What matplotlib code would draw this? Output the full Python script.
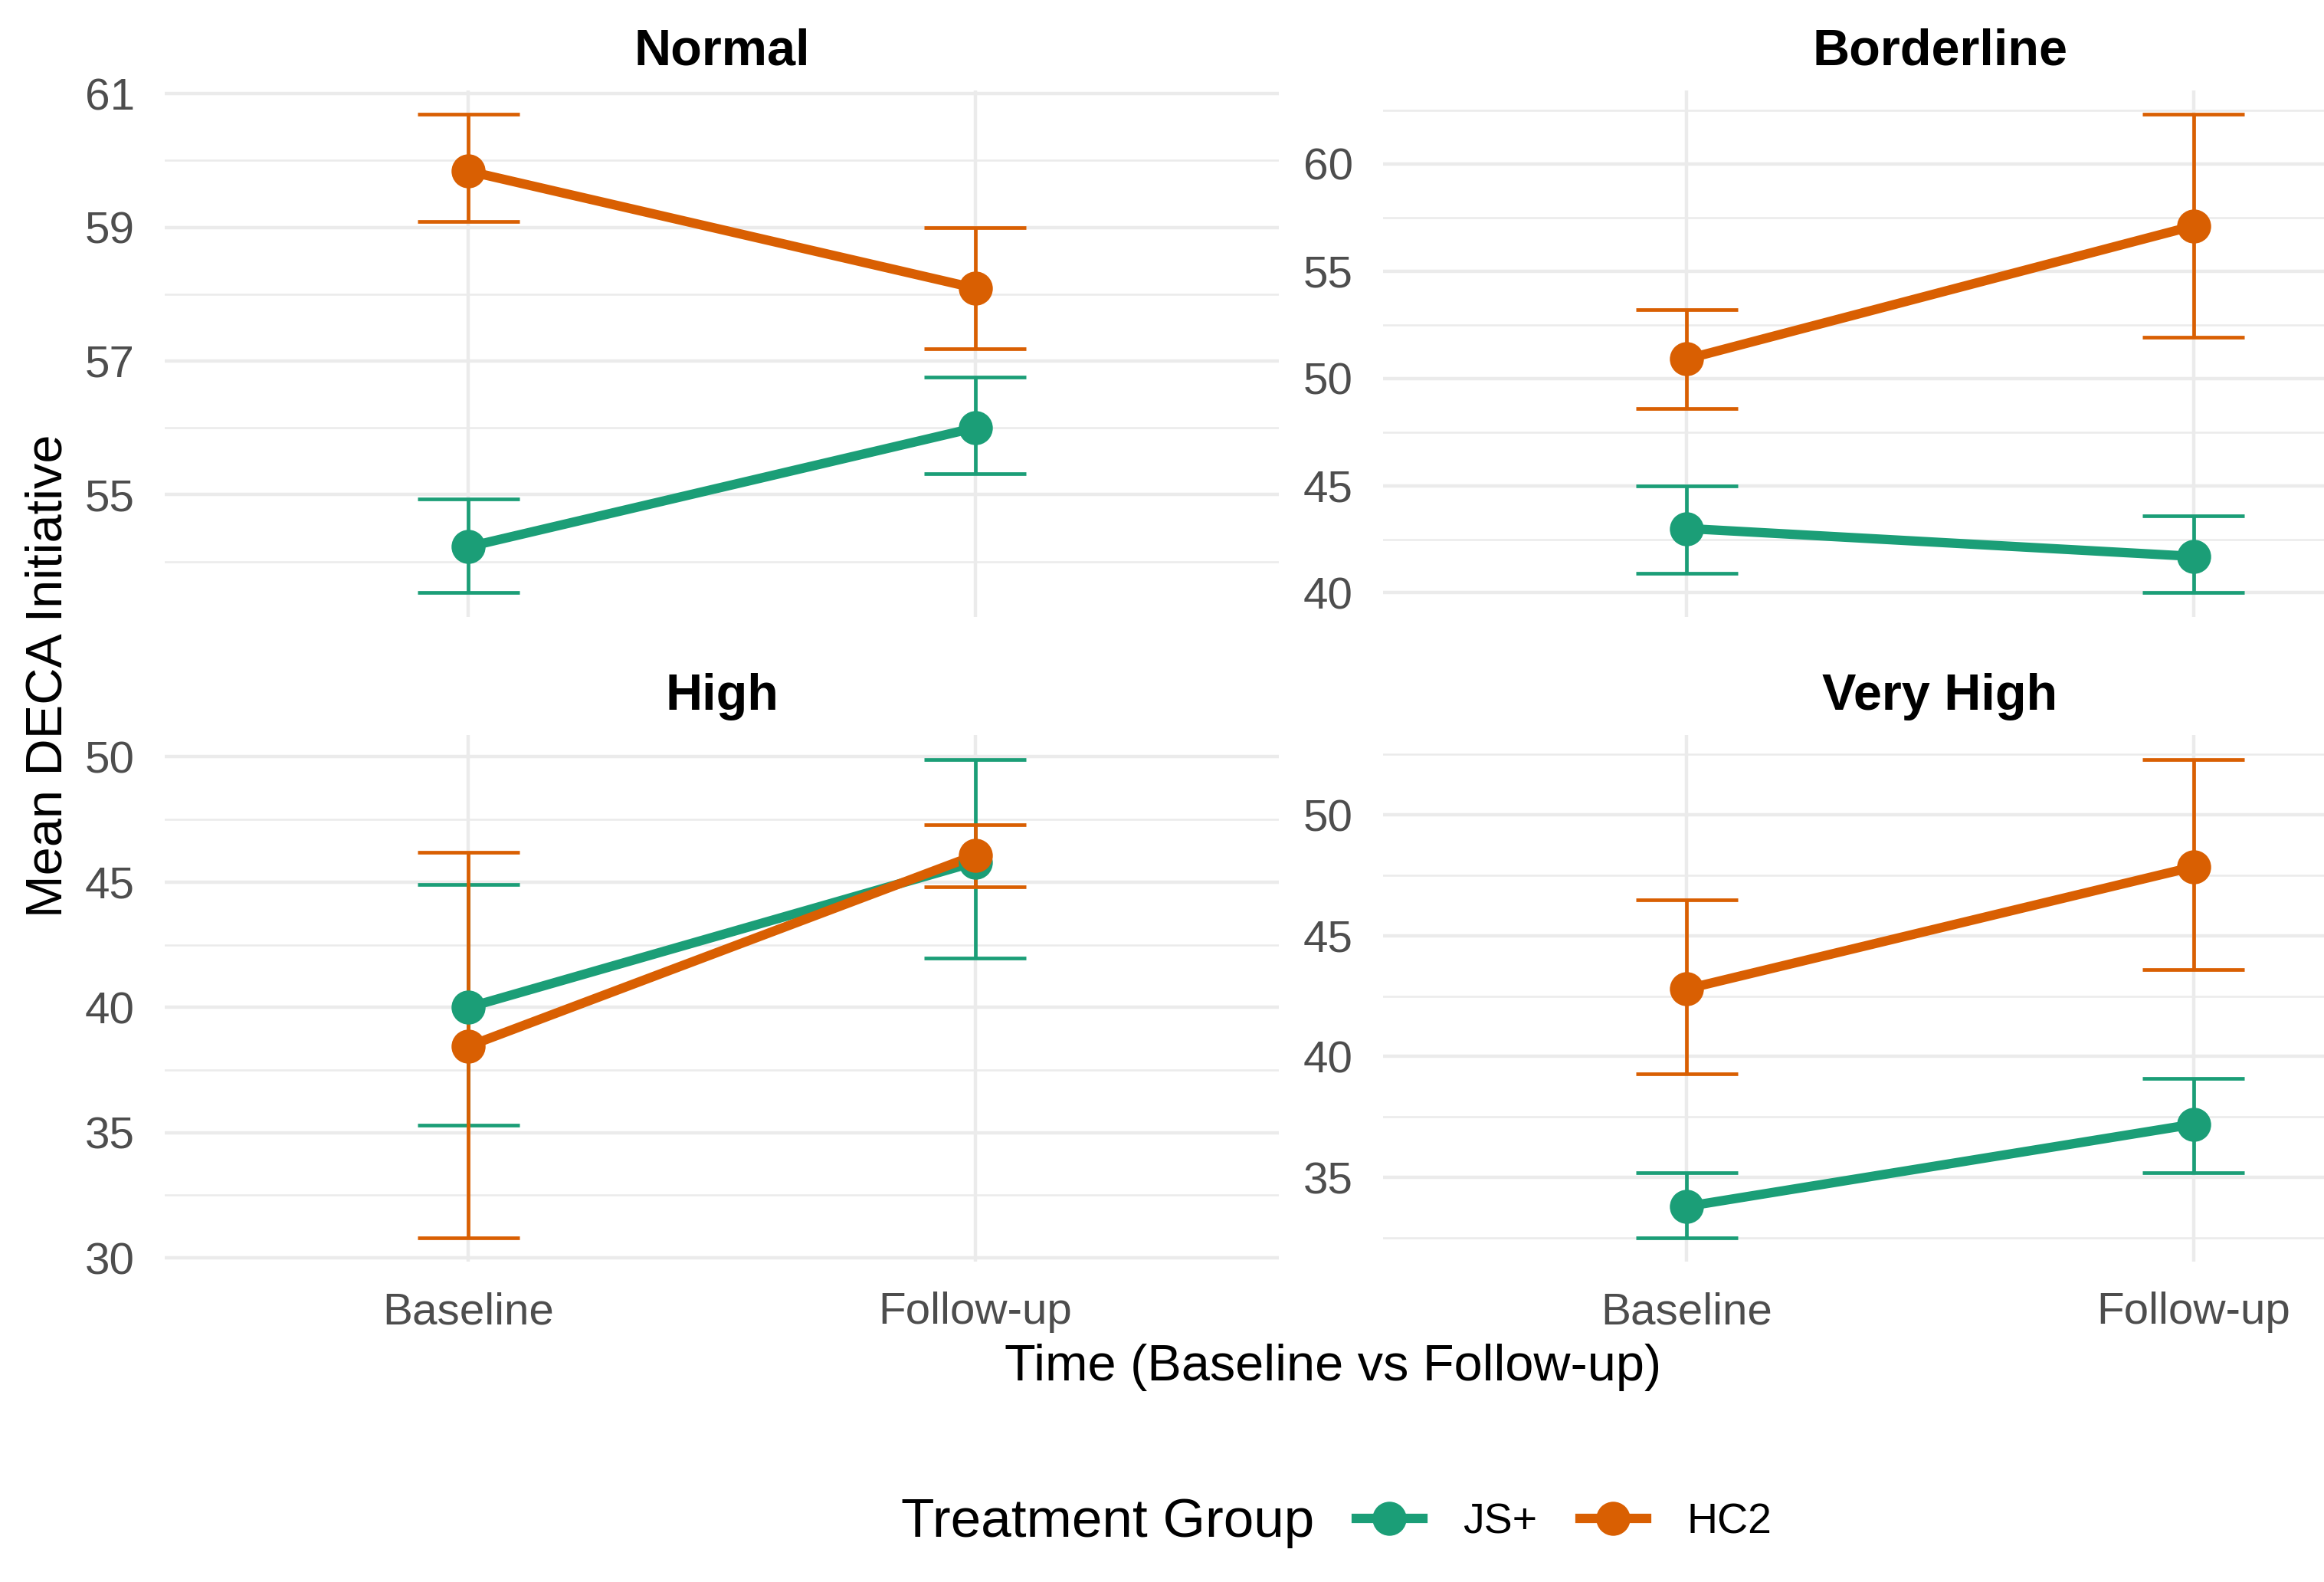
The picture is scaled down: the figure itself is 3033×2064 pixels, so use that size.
import numpy as np
import matplotlib
matplotlib.use("Agg")
import matplotlib.pyplot as plt
from matplotlib.lines import Line2D

plt.rcParams['font.family'] = ['Liberation Sans', 'DejaVu Sans']

times = ['Baseline', 'Follow-up']
groups = ['JS+', 'HC2']
panels = ['Normal', 'Borderline', 'High', 'Very High']
colors = {'JS+': '#1B9E77', 'HC2': '#D95F02'}

# values, one row per panel: [Baseline, Follow-up]
js_mean = [[54.22, 56.00], [43.0, 41.7], [40.0, 45.8], [33.8, 37.2]]
js_low = [[53.53, 55.31], [40.9, 40.0], [35.3, 41.96], [32.5, 35.2]]
js_high = [[54.93, 56.76], [45.0, 43.6], [44.9, 49.9], [35.2, 39.1]]

hc_mean = [[59.84, 58.09], [50.9, 57.1], [38.45, 46.07], [42.8, 47.85]]
hc_low = [[59.09, 57.18], [48.6, 51.9], [30.8, 44.8], [39.3, 43.6]]
hc_high = [[60.69, 59.00], [53.2, 62.3], [46.2, 47.3], [46.5, 52.3]]

y_ticks = [[55, 57, 59, 61], [40, 45, 50, 55, 60], [30, 35, 40, 45, 50], [35, 40, 45, 50]]

series = {
    'JS+': (js_mean, js_low, js_high),
    'HC2': (hc_mean, hc_low, hc_high),
}

W, H = 1568.0, 1067.0
fig = plt.figure(figsize=(15.165, 10.32), dpi=200)

# panel grid; the right column runs past the figure edge, as in the cropped original
col_x = [111 / W, 933 / W]
row_y = [1 - 416 / H, 1 - 851 / H]
ax_w = 752 / W
ax_h = 355 / H

x = np.arange(len(times))
cap = 0.1

for i, panel in enumerate(panels):
    r, c = divmod(i, 2)
    ax = fig.add_axes([col_x[c], row_y[r], ax_w, ax_h])

    for g in groups:
        mean, low, high = series[g]
        col = colors[g]
        ax.plot(x, mean[i], color=col, lw=4.4, zorder=3, solid_capstyle='butt')
        ax.vlines(x, low[i], high[i], color=col, lw=1.7, zorder=2)
        ax.hlines(low[i], x - cap, x + cap, color=col, lw=1.7, zorder=2)
        ax.hlines(high[i], x - cap, x + cap, color=col, lw=1.7, zorder=2)
    for g in groups:
        mean = series[g][0]
        ax.plot(x, mean[i], 'o', color=colors[g], ms=16, mew=0, zorder=4)

    lo = min(min(js_low[i]), min(hc_low[i]))
    hi = max(max(js_high[i]), max(hc_high[i]))
    pad = 0.05 * (hi - lo)
    ax.set_ylim(lo - pad, hi + pad)
    ax.set_xlim(-0.6, 1.6)

    ticks = y_ticks[i]
    step = ticks[1] - ticks[0]
    minor = np.arange(ticks[0] - step / 2, ticks[-1] + step, step)
    minor = [m for m in minor if lo - pad <= m <= hi + pad]
    ax.set_yticks(ticks)
    ax.set_yticks(minor, minor=True)
    ax.set_xticks(x)
    if r == 1:
        ax.set_xticklabels(times)
    else:
        ax.set_xticklabels([])

    ax.grid(which='major', color='#EBEBEB', lw=1.6)
    ax.grid(which='minor', axis='y', color='#EBEBEB', lw=0.9)
    ax.set_axisbelow(True)
    for s in ax.spines.values():
        s.set_visible(False)
    ax.tick_params(which='both', length=0)
    ax.tick_params(axis='y', labelsize=21, labelcolor='#4D4D4D', pad=14)
    ax.tick_params(axis='x', labelsize=21, labelcolor='#4D4D4D', pad=14)
    ax.set_title(panel, fontsize=24, fontweight='bold', pad=12)

fig.text(899.5 / W, 1 - 922 / H, 'Time (Baseline vs Follow-up)', fontsize=24,
         ha='center', va='center')
fig.text(33 / W, 1 - 456 / H, 'Mean DECA Initiative', fontsize=24,
         ha='center', va='center', rotation=90)

fig.text(887 / W, 1 - 1027 / H, 'Treatment Group', fontsize=25.6,
         ha='right', va='center')
handles = [Line2D([0], [0], color=colors[g], lw=4.4, marker='o', ms=16, mew=0)
           for g in groups]
fig.legend(handles, groups, loc='center left',
           bbox_to_anchor=(915 / W, 1 - 1027 / H), ncol=2, frameon=False,
           fontsize=20, handlelength=1.56, handletextpad=0.95,
           columnspacing=1.0, borderpad=0, borderaxespad=0)

fig.savefig('out.png', dpi=200)
